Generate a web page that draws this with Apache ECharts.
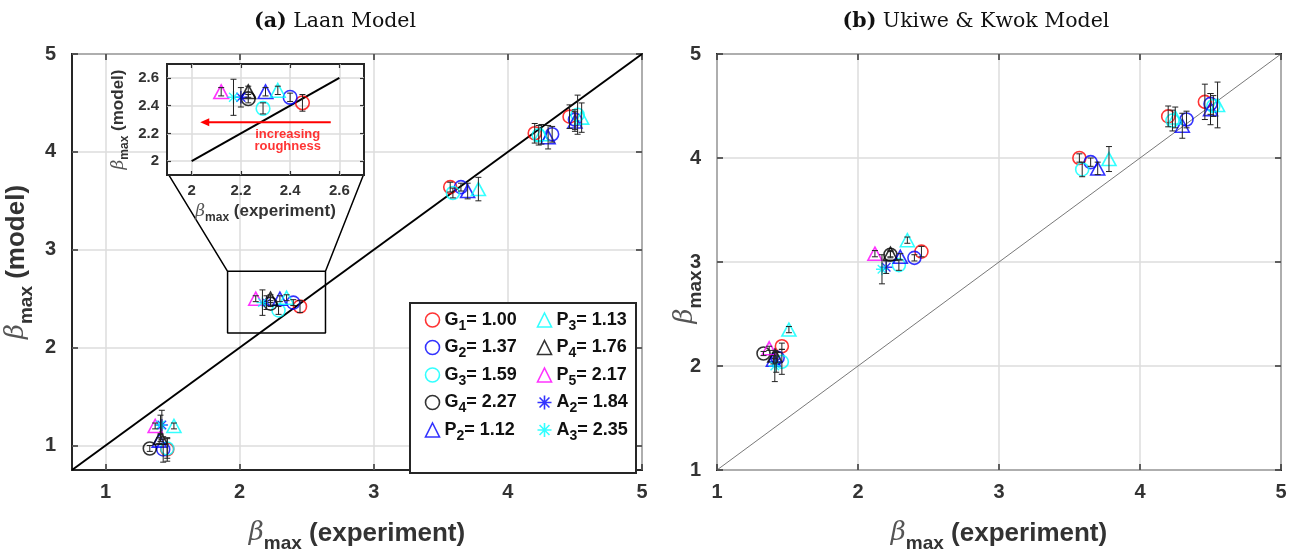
<!DOCTYPE html>
<html><head><meta charset="utf-8">
<script src="https://cdn.jsdelivr.net/npm/echarts@6/dist/echarts.min.js"></script>
<style>html,body{margin:0;padding:0;background:#fff}#c{width:1292px;height:558px}</style>
</head><body><div id="c"></div>
<script>
// ---------------- DATA ----------------
const seriesNames = ['G_1= 1.00','G_2= 1.37','G_3= 1.59','G_4= 2.27','P_2= 1.12','P_3= 1.13','P_4= 1.76','P_5= 2.17','A_2= 1.84','A_3= 2.35'];
const seriesColors = ['#ff0000','#0000ff','#00ffff','#000000','#0000ff','#00ffff','#000000','#ff00ff','#0000ff','#00ffff'];
const seriesMarkers = ['circle','circle','circle','circle','triangle','triangle','triangle','triangle','star','star'];

// experimental beta_max (x) for each series, one value per test case
const expBeta = [
  [1.46, 2.45, 3.57, 4.20, 4.46], // G1
  [1.43, 2.40, 3.65, 4.33, 4.50], // G2
  [1.46, 2.29, 3.59, 4.23, 4.52], // G3
  [1.33, 2.23],                   // G4
  [1.40, 2.30, 3.70, 4.30, 4.50], // P2
  [1.51, 2.35, 3.78, 4.25, 4.55], // P3
  [1.41, 2.23],                   // P4
  [1.37, 2.12],                   // P5
  [1.42, 2.20],                   // A2
  [1.41, 2.17]                    // A3
];
// (a) Laan model beta_max and error half-widths
const laanBeta = [
  [0.96, 2.42, 3.64, 4.19, 4.36],
  [0.96, 2.46, 3.64, 4.18, 4.33],
  [0.97, 2.38, 3.58, 4.17, 4.38],
  [0.97, 2.45],
  [1.05, 2.50, 3.60, 4.15, 4.31],
  [1.20, 2.51, 3.62, 4.18, 4.35],
  [1.08, 2.50],
  [1.20, 2.50],
  [1.21, 2.46],
  [1.21, 2.46]
];
const laanErr = [
  [0.12, 0.06, 0.05, 0.10, 0.12],
  [0.13, 0.03, 0.04, 0.08, 0.10],
  [0.10, 0.04, 0.05, 0.10, 0.20],
  [0.03, 0.03],
  [0.03, 0.03, 0.08, 0.12, 0.10],
  [0.03, 0.03, 0.12, 0.10, 0.15],
  [0.04, 0.04],
  [0.03, 0.03],
  [0.15, 0.07],
  [0.10, 0.13]
];
// (b) Ukiwe & Kwok model beta_max and error half-widths
const ukBeta = [
  [2.19, 3.10, 4.00, 4.40, 4.54],
  [2.08, 3.04, 3.96, 4.37, 4.52],
  [2.04, 2.97, 3.89, 4.36, 4.50],
  [2.12, 3.07],
  [2.06, 3.05, 3.90, 4.31, 4.47],
  [2.35, 3.21, 3.99, 4.39, 4.51],
  [2.10, 3.08],
  [2.17, 3.08],
  [2.04, 2.95],
  [2.00, 2.93]
];
const ukErr = [
  [0.03, 0.05, 0.04, 0.10, 0.17],
  [0.05, 0.03, 0.04, 0.08, 0.10],
  [0.12, 0.05, 0.07, 0.10, 0.10],
  [0.02, 0.03],
  [0.04, 0.03, 0.06, 0.12, 0.15],
  [0.03, 0.03, 0.12, 0.10, 0.22],
  [0.03, 0.03],
  [0.02, 0.03],
  [0.10, 0.06],
  [0.15, 0.14]
];
const mainTicks = [1, 2, 3, 4, 5];
const insetTicks = [2, 2.2, 2.4, 2.6];
// zoom box (data coords of panel a) and inset ranges
const zoomBoxX = [1.91, 2.64];
const zoomBoxY = [2.15, 2.78];
const insetRange = [1.9, 2.7];
const insetCornersInMain = [[1.46, 3.79], [2.93, 3.79]];
const refLineA = [[0.75, 0.75], [5, 5]];
const refLineInset = [[2, 2], [2.6, 2.6]];
const refLineB = [[1, 1], [5, 5]];
const arrowPts = [[2.565, 2.28], [2.035, 2.28]];
const arrowTextPt = [2.39, 2.15];

// ---------------- CHART ----------------
const SANS = 'Liberation Sans, Arial, sans-serif';
const starPath = 'path://M0,-10L0,10M-10,0L10,0M-7.07,-7.07L7.07,7.07M-7.07,7.07L7.07,-7.07';
function symOf(m){ return m === 'star' ? starPath : m; }
function sizeOf(m, k){ return (m === 'circle' ? [13,13] : m === 'triangle' ? [14,13] : [12,12]).map(v => v * k); }

const nameRich = (fs) => ({
  beta: {fontFamily: 'DejaVu Serif', fontStyle: 'italic', fontWeight: 'normal', fontSize: fs, color: '#555'},
  sub: {fontFamily: SANS, fontWeight: 'bold', fontSize: Math.round(fs * 0.72), color: '#333', padding: [Math.round(fs * 0.75), 0, 0, 0]},
  t: {fontFamily: SANS, fontWeight: 'bold', fontSize: fs, color: '#333'}
});

function valAxis(o){
  return Object.assign({
    type: 'value', axisLine: {show: false},
    axisTick: {inside: true, length: 6, lineStyle: {color: '#333', width: 1.5}},
    axisLabel: {fontFamily: SANS, fontWeight: 'bold', fontSize: 20, color: '#333'},
    splitLine: {show: true, lineStyle: {color: '#dddddd', width: 1.5}}
  }, o);
}
function mirrorAxis(o, ticks){
  return Object.assign({
    type: 'value', axisLine: {show: false},
    axisTick: {inside: true, length: 6, customValues: ticks, lineStyle: {color: '#333', width: 1.5}},
    axisLabel: {show: false, customValues: ticks}, splitLine: {show: false}
  }, o);
}

const xAxes = [
  valAxis({gridIndex: 0, min: 0.75, max: 5, axisTick: {inside: true, length: 6, customValues: mainTicks, lineStyle: {color: '#333', width: 1.5}},
    axisLabel: {customValues: mainTicks, fontFamily: SANS, fontWeight: 'bold', fontSize: 20, color: '#333', margin: 12},
    name: '{beta|β}{sub|max}{t| (experiment)}', nameLocation: 'middle', nameGap: 44, nameTextStyle: {rich: nameRich(26)}}),
  mirrorAxis({gridIndex: 0, min: 0.75, max: 5, position: 'top'}, mainTicks),
  valAxis({gridIndex: 1, min: insetRange[0], max: insetRange[1], z: 11,
    axisTick: {inside: true, length: 4, customValues: insetTicks, lineStyle: {color: '#333', width: 1.2}},
    axisLabel: {customValues: insetTicks, fontFamily: SANS, fontWeight: 'bold', fontSize: 15, color: '#333', margin: 8},
    name: '{beta|β}{sub|max}{t| (experiment)}', nameLocation: 'middle', nameGap: 24, nameTextStyle: {rich: nameRich(17)}}),
  mirrorAxis({gridIndex: 1, min: insetRange[0], max: insetRange[1], position: 'top', z: 11, axisTick: {inside: true, length: 4, customValues: insetTicks, lineStyle: {color: '#333', width: 1.2}}}, insetTicks),
  valAxis({gridIndex: 2, min: 1, max: 5, interval: 1, axisLabel: {fontFamily: SANS, fontWeight: 'bold', fontSize: 20, color: '#333', margin: 12},
    name: '{beta|β}{sub|max}{t| (experiment)}', nameLocation: 'middle', nameGap: 44, nameTextStyle: {rich: nameRich(26)}}),
  mirrorAxis({gridIndex: 2, min: 1, max: 5, position: 'top'}, mainTicks)
];
const yAxes = [
  valAxis({gridIndex: 0, min: 0.75, max: 5, axisTick: {inside: true, length: 6, customValues: mainTicks, lineStyle: {color: '#333', width: 1.5}},
    axisLabel: {customValues: mainTicks, fontFamily: SANS, fontWeight: 'bold', fontSize: 20, color: '#333', margin: 16},
    name: '{beta|β}{sub|max}{t| (model)}', nameLocation: 'middle', nameGap: 36, nameRotate: 90, nameTextStyle: {rich: nameRich(26)}}),
  mirrorAxis({gridIndex: 0, min: 0.75, max: 5, position: 'right'}, mainTicks),
  valAxis({gridIndex: 1, min: insetRange[0], max: insetRange[1], z: 11,
    axisTick: {inside: true, length: 4, customValues: insetTicks, lineStyle: {color: '#333', width: 1.2}},
    axisLabel: {customValues: insetTicks, fontFamily: SANS, fontWeight: 'bold', fontSize: 15, color: '#333', margin: 8},
    name: '{beta|β}{sub|max}{t| (model)}', nameLocation: 'middle', nameGap: 36, nameRotate: 90, nameTextStyle: {rich: nameRich(17)}}),
  mirrorAxis({gridIndex: 1, min: insetRange[0], max: insetRange[1], position: 'right', z: 11, axisTick: {inside: true, length: 4, customValues: insetTicks, lineStyle: {color: '#333', width: 1.2}}}, insetTicks),
  valAxis({gridIndex: 2, min: 1, max: 5, interval: 1, axisLabel: {fontFamily: SANS, fontWeight: 'bold', fontSize: 20, color: '#333', margin: 16},
    name: '{beta|β}{sub|max}', nameLocation: 'middle', nameGap: 12, nameRotate: 90, nameMoveOverlap: false,
    nameTextStyle: {rich: nameRich(26), padding: [0, 70, 0, 0]}}),
  mirrorAxis({gridIndex: 2, min: 1, max: 5, position: 'right'}, mainTicks)
];
// axis indices of each panel
const AX_A = 0, AX_INSET = 2, AX_B = 4;

function errRender(params, api){
  const x = api.value(0), lo = api.value(1), hi = api.value(2);
  const a = api.coord([x, hi]), b = api.coord([x, lo]);
  const w = 3, st = {stroke: '#222', lineWidth: 1};
  return {type: 'group', children: [
    {type: 'line', shape: {x1: a[0], y1: a[1], x2: b[0], y2: b[1]}, style: st},
    {type: 'line', shape: {x1: a[0] - w, y1: a[1], x2: a[0] + w, y2: a[1]}, style: st},
    {type: 'line', shape: {x1: b[0] - w, y1: b[1], x2: b[0] + w, y2: b[1]}, style: st}
  ]};
}
function arrowRender(params, api){
  const p0 = api.coord([api.value(0), api.value(1)]);
  const p1 = api.coord([api.value(2), api.value(3)]);
  const head = 9, hw = 4;
  return {type: 'group', children: [
    {type: 'line', shape: {x1: p0[0], y1: p0[1], x2: p1[0] + head - 1, y2: p1[1]}, style: {stroke: '#ff0000', lineWidth: 2}},
    {type: 'polygon', shape: {points: [[p1[0], p1[1]], [p1[0] + head, p1[1] - hw], [p1[0] + head, p1[1] + hw]]}, style: {fill: '#ff0000'}}
  ]};
}

const series = [];
// reference lines
series.push({type: 'line', xAxisIndex: AX_A, yAxisIndex: AX_A, data: refLineA, symbol: 'none', lineStyle: {color: '#000', width: 2}, silent: true, z: 1});
series.push({type: 'line', xAxisIndex: AX_B, yAxisIndex: AX_B, data: refLineB, symbol: 'none', lineStyle: {color: '#555', width: 0.8}, silent: true, z: 1});
series.push({type: 'line', xAxisIndex: AX_INSET, yAxisIndex: AX_INSET, data: refLineInset, symbol: 'none', lineStyle: {color: '#000', width: 2}, silent: true, z: 12});
// zoom box + connector lines
series.push({type: 'line', xAxisIndex: AX_A, yAxisIndex: AX_A, symbol: 'none', silent: true, z: 1,
  lineStyle: {color: '#000', width: 1.5},
  data: [insetCornersInMain[0], [zoomBoxX[0], zoomBoxY[1]], [zoomBoxX[0], zoomBoxY[0]], [zoomBoxX[1], zoomBoxY[0]], [zoomBoxX[1], zoomBoxY[1]], insetCornersInMain[1], null, [zoomBoxX[0], zoomBoxY[1]], [zoomBoxX[1], zoomBoxY[1]]],
  connectNulls: false});

const errA = [], errB = [], errI = [];
seriesNames.forEach((nm, i) => {
  const m = seriesMarkers[i], c = seriesColors[i];
  const base = {type: 'scatter', name: nm, symbol: symOf(m), itemStyle: {color: 'none', borderColor: c, borderWidth: m === 'star' ? 1.4 : 1.6}, silent: true};
  const dA = expBeta[i].map((x, j) => [x, laanBeta[i][j]]);
  const dB = expBeta[i].map((x, j) => [x, ukBeta[i][j]]);
  series.push(Object.assign({}, base, {xAxisIndex: AX_A, yAxisIndex: AX_A, data: dA, symbolSize: sizeOf(m, 1), z: 2}));
  series.push(Object.assign({}, base, {xAxisIndex: AX_INSET, yAxisIndex: AX_INSET, data: dA, symbolSize: sizeOf(m, 1.05), z: 12, clip: true}));
  series.push(Object.assign({}, base, {xAxisIndex: AX_B, yAxisIndex: AX_B, data: dB, symbolSize: sizeOf(m, 1), z: 2}));
  expBeta[i].forEach((x, j) => {
    const ea = laanErr[i][j], eb = ukErr[i][j];
    errA.push([x, laanBeta[i][j] - ea, laanBeta[i][j] + ea]);
    errB.push([x, ukBeta[i][j] - eb, ukBeta[i][j] + eb]);
    if (x > insetRange[0] && x < insetRange[1] && laanBeta[i][j] > insetRange[0] && laanBeta[i][j] < insetRange[1]) errI.push([x, laanBeta[i][j] - ea, laanBeta[i][j] + ea]);
  });
});
series.push({type: 'custom', xAxisIndex: AX_A, yAxisIndex: AX_A, renderItem: errRender, data: errA, z: 3, silent: true, encode: {x: 0, y: [1, 2]}});
series.push({type: 'custom', xAxisIndex: AX_INSET, yAxisIndex: AX_INSET, renderItem: errRender, data: errI, z: 13, silent: true, clip: true, encode: {x: 0, y: [1, 2]}});
series.push({type: 'custom', xAxisIndex: AX_B, yAxisIndex: AX_B, renderItem: errRender, data: errB, z: 3, silent: true, encode: {x: 0, y: [1, 2]}});
// arrow + annotation in inset
series.push({type: 'custom', xAxisIndex: AX_INSET, yAxisIndex: AX_INSET, renderItem: arrowRender, z: 13, silent: true,
  data: [[arrowPts[0][0], arrowPts[0][1], arrowPts[1][0], arrowPts[1][1]]], encode: {x: [0, 2], y: [1, 3]}});
series.push({type: 'scatter', xAxisIndex: AX_INSET, yAxisIndex: AX_INSET, data: [arrowTextPt], symbolSize: 1, itemStyle: {color: 'none'}, z: 13, silent: true,
  label: {show: true, position: 'inside', formatter: 'increasing\nroughness', color: '#ff0000', fontFamily: SANS, fontWeight: 'bold', fontSize: 13, lineHeight: 12}});

const legendFmt = (name) => { const p = name.match(/^(\w)_(\d)(.*)$/); return '{b|' + p[1] + '}{s|' + p[2] + '}{b|' + p[3] + '}'; };
const legendText = {fontFamily: SANS, fontWeight: 'bold', fontSize: 18, color: '#111',
  rich: {b: {fontFamily: SANS, fontWeight: 'bold', fontSize: 18, color: '#111', lineHeight: 20},
         s: {fontFamily: SANS, fontWeight: 'bold', fontSize: 14, color: '#111', lineHeight: 20, padding: [12, 0, 0, 0]}}};
const titleStyle = {fontFamily: 'DejaVu Serif', fontWeight: 'normal', fontSize: 20.5, color: '#111',
  rich: {b: {fontFamily: 'DejaVu Serif', fontWeight: 'bold', fontSize: 20.5, color: '#111'}}};

const option = {
  backgroundColor: '#fff',
  animation: false,
  title: [
    {text: '{b|(a)} Laan Model', left: 330, top: 6, textAlign: 'center', textStyle: titleStyle},
    {text: '{b|(b)} Ukiwe & Kwok Model', left: 971, top: 6, textAlign: 'center', textStyle: titleStyle}
  ],
  grid: [
    {left: 72, top: 54, width: 570, height: 425, show: true, borderColor: '#262626', borderWidth: 2, backgroundColor: 'transparent'},
    {left: 167, top: 64, width: 197, height: 111, show: true, borderColor: '#262626', borderWidth: 2, backgroundColor: '#fff', z: 10},
    {left: 717, top: 54, width: 564, height: 425, show: true, borderColor: '#262626', borderWidth: 2, backgroundColor: 'transparent'}
  ],
  xAxis: xAxes,
  yAxis: yAxes,
  legend: [
    {orient: 'vertical', left: 418, top: 302, itemWidth: 14, itemHeight: 14, itemGap: 1.5, itemStyle: {borderWidth: 1.6},
      data: seriesNames.slice(0, 5), formatter: legendFmt, textStyle: legendText, selectedMode: false},
    {orient: 'vertical', left: 530, top: 302, itemWidth: 14, itemHeight: 14, itemGap: 1.5, itemStyle: {borderWidth: 1.6},
      data: seriesNames.slice(5), formatter: legendFmt, textStyle: legendText, selectedMode: false}
  ],
  graphic: [{type: 'rect', shape: {x: 410, y: 303, width: 226, height: 170}, style: {fill: '#fff', stroke: '#262626', lineWidth: 2}, z: 3, silent: true}],
  series: series
};
const chart = echarts.init(document.getElementById('c'), null, {renderer: 'canvas'});
chart.setOption(option);
</script></body></html>
